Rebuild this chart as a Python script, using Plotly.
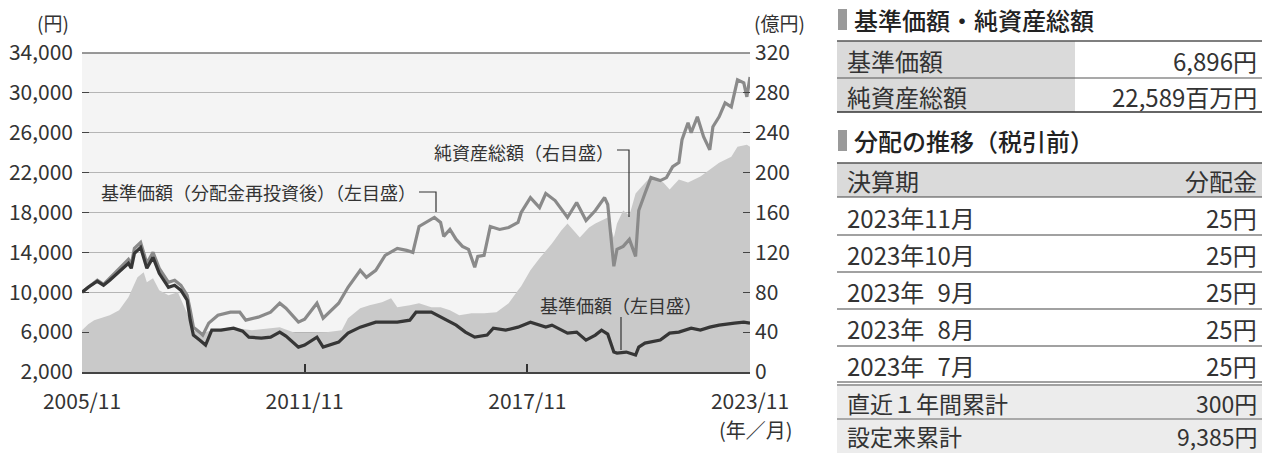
import plotly.graph_objects as go

# ---------------- data ----------------
nav_dates = ["2005-11","2006-01","2006-04","2006-06","2006-08","2006-11","2007-02","2007-03","2007-04","2007-06",
             "2007-08","2007-10","2007-12","2008-03","2008-05","2008-07","2008-09","2008-10","2008-11","2009-01",
             "2009-03","2009-05","2009-08","2009-12","2010-03","2010-05","2010-09","2010-12","2011-03","2011-05",
             "2011-09","2011-11","2012-03","2012-05","2012-10","2013-01","2013-05","2013-10","2014-05","2014-09",
             "2014-11","2015-04","2015-07","2015-12","2016-03","2016-06","2016-10","2016-12","2017-04","2017-08",
             "2017-12","2018-05","2018-07","2018-12","2019-03","2019-06","2019-09","2019-11","2020-01","2020-03",
             "2020-04","2020-07","2020-10","2020-11","2021-01","2021-06","2021-09","2021-12","2022-04","2022-07",
             "2022-10","2023-01","2023-06","2023-09","2023-11"]
nav_values = [10000,10500,11100,10700,11200,12000,12900,12400,13900,14500,
              12400,13500,11900,10500,10700,10200,9200,7200,5700,5200,
              4700,6200,6200,6400,6100,5500,5400,5500,6000,5600,
              4500,4700,5500,4500,5000,5900,6500,7000,7000,7200,
              8000,8000,7500,6700,6000,5500,5700,6400,6200,6500,
              7000,6500,6700,5900,6000,5200,5700,6200,5800,4000,
              3900,4000,3700,4500,4900,5200,5900,6000,6400,6200,
              6500,6700,6900,7000,6896]

reinv_dates = ["2005-11","2006-01","2006-04","2006-06","2006-08","2006-11","2007-02","2007-03","2007-04","2007-06",
               "2007-08","2007-10","2007-12","2008-03","2008-05","2008-07","2008-09","2008-10","2008-11","2009-01",
               "2009-02","2009-04","2009-07","2009-11","2010-02","2010-04","2010-08","2010-12","2011-03","2011-05",
               "2011-09","2011-11","2012-03","2012-05","2012-10","2013-01","2013-05","2013-07","2013-10","2014-01",
               "2014-05","2014-08","2014-10","2014-12","2015-02","2015-05","2015-07","2015-08","2015-10","2015-12",
               "2016-02","2016-04","2016-06","2016-07","2016-09","2016-11","2017-02","2017-05","2017-08","2017-09",
               "2017-12","2018-03","2018-05","2018-08","2018-12","2019-03","2019-06","2019-09","2019-12","2020-01",
               "2020-03","2020-04","2020-06","2020-08","2020-10","2020-11","2021-01","2021-03","2021-06","2021-08",
               "2021-10","2021-12","2022-01","2022-03","2022-04","2022-06","2022-08","2022-10","2022-11","2023-01",
               "2023-03","2023-05","2023-07","2023-09","2023-10","2023-11"]
reinv_values = [10000,10500,11200,10800,11400,12300,13300,12800,14400,15000,
                12900,14000,12400,11000,11200,10700,9700,8200,6500,6000,
                5700,6900,7700,8000,8000,7200,7500,8000,8900,8400,
                7000,7300,8900,7400,8900,10500,12200,11500,12200,13700,
                14400,14200,14000,16600,17000,17500,17000,15600,16300,15300,
                14600,14300,12500,13600,13700,16600,16300,16500,17000,18000,
                19500,18500,19900,19200,17500,19000,17200,18200,19500,18800,
                12600,14300,14600,15300,13600,18200,19900,21500,21200,21500,
                22600,23000,25300,27000,26000,27600,25600,24300,26600,27600,
                29000,28600,31300,31000,29600,31600]

assets_dates = ["2005-11","2006-01","2006-03","2006-08","2006-11","2007-02","2007-05","2007-07","2007-08","2007-10",
                "2007-12","2008-03","2008-06","2008-09","2008-11","2009-02","2009-05","2009-11","2010-06","2010-12",
                "2011-03","2011-08","2012-01","2012-06","2012-11","2013-01","2013-05","2013-08","2013-12","2014-03",
                "2014-05","2014-09","2014-12","2015-04","2015-07","2015-10","2016-01","2016-05","2016-09","2017-01",
                "2017-05","2017-08","2017-09","2017-12","2018-03","2018-07","2018-10","2018-12","2019-04","2019-07",
                "2019-09","2020-01","2020-03","2020-04","2020-06","2020-08","2020-10","2020-12","2021-03","2021-07",
                "2021-09","2021-12","2022-03","2022-07","2022-10","2023-01","2023-05","2023-07","2023-10","2023-11"]
assets_values = [42,48,52,57,62,75,95,100,90,94,
                 82,77,80,59,42,39,42,45,42,44,
                 45,39,39,40,42,54,64,67,70,74,
                 65,67,69,65,65,62,57,59,59,60,
                 69,82,86,102,114,129,142,149,135,145,
                 149,155,135,149,162,157,179,186,196,190,
                 183,193,190,196,203,210,216,226,228,226]

x_tick_dates = ["2005-11-01", "2011-11-01", "2017-11-01", "2023-11-01"]
x_tick_labels = ["2005/11", "2011/11", "2017/11", "2023/11"]
left_ticks = [2000, 6000, 10000, 14000, 18000, 22000, 26000, 30000, 34000]
right_ticks = [0, 40, 80, 120, 160, 200, 240, 280, 320]

label_reinv = "基準価額（分配金再投資後）（左目盛）"
label_assets = "純資産総額（右目盛）"
label_nav = "基準価額（左目盛）"

table1_title = "基準価額・純資産総額"
table1_labels = ["基準価額", "純資産総額"]
table1_values = ["6,896円", "22,589百万円"]

table2_title = "分配の推移（税引前）"
table2_header = ["決算期", "分配金"]
table2_periods = ["2023年11月", "2023年10月", "2023年\u20079月", "2023年\u20078月", "2023年\u20077月"]
table2_amounts = ["25円", "25円", "25円", "25円", "25円"]
summary_labels = ["直近１年間累計", "設定来累計"]
summary_values = ["300円", "9,385円"]

# ---------------- layout helpers ----------------
FONT = "Noto Sans CJK JP"
TXT = "#333333"
PL, PR, PT, PB = 82, 750, 53, 372


def fx(x):
    return (x - PL) / (PR - PL)


def fy(y):
    return (PB - y) / (PB - PT)


shapes = []
annotations = []


def rect(x0, y0, x1, y1, color):
    shapes.append(dict(type="rect", xref="paper", yref="paper", x0=fx(x0), x1=fx(x1),
                       y0=fy(y1), y1=fy(y0), fillcolor=color, line=dict(width=0), layer="below"))


def hline(x0, x1, y, color="#555555", width=1.2):
    shapes.append(dict(type="line", xref="paper", yref="paper", x0=fx(x0), x1=fx(x1),
                       y0=fy(y), y1=fy(y), line=dict(color=color, width=width)))


def path(points, color="#333333", width=1.2):
    d = "M " + " L ".join(f"{fx(a)},{fy(b)}" for a, b in points)
    shapes.append(dict(type="path", xref="paper", yref="paper", path=d,
                       line=dict(color=color, width=width)))


def text(x, y, s, size, anchor="left", color=TXT, weight=None):
    f = dict(family=FONT, size=size, color=color)
    if weight:
        f["weight"] = weight
    annotations.append(dict(xref="paper", yref="paper", x=fx(x), y=fy(y), text=s,
                            showarrow=False, xanchor=anchor, yanchor="middle", font=f))


# ---------------- figure ----------------
fig = go.Figure()
fig.add_trace(go.Scatter(x=assets_dates, y=assets_values, mode="lines", fill="tozeroy",
                         fillcolor="#c9c9c9", line=dict(width=0, color="#c9c9c9"),
                         yaxis="y", showlegend=False, hoverinfo="skip"))
fig.add_trace(go.Scatter(x=reinv_dates, y=reinv_values, mode="lines",
                         line=dict(color="#8a8a8a", width=3.2), yaxis="y2", showlegend=False))
fig.add_trace(go.Scatter(x=nav_dates, y=nav_values, mode="lines",
                         line=dict(color="#363636", width=3.2), yaxis="y2", showlegend=False))

# top border of the plot
shapes.append(dict(type="line", xref="paper", yref="paper", x0=0, x1=1, y0=1, y1=1,
                   line=dict(color="#777777", width=1.5)))

# leader lines
path([(419, 192), (436, 192), (436, 212)])
path([(617, 150), (629, 150), (629, 217)])
path([(621, 317), (621, 350)])

text(418, 192, label_reinv, 18, "right")
text(616, 152, label_assets, 18, "right")
text(621, 305, label_nav, 18, "center")

# unit labels
text(71, 22, "(円)", 19, "right")
text(752, 22, "(億円)", 19, "left")
text(795, 429, "(年／月)", 20, "right")

# ---------- right-hand tables ----------
TL, TR, TM = 837, 1262, 1075
# table 1
rect(838, 9, 847, 30, "#9a9a9a")
text(852, 19, table1_title, 24, "left", color="#222222", weight=500)
row_edges1 = [41, 78, 112]
for i, (lab, val) in enumerate(zip(table1_labels, table1_values)):
    y0, y1 = row_edges1[i], row_edges1[i + 1]
    rect(TL, y0, TM, y1, "#dadada")
    text(845, (y0 + y1) / 2 + 1, lab, 24, "left")
    text(1259, (y0 + y1) / 2 + 1, val, 24, "right")
hline(TL, TR, 41, "#555555", 1.5)
hline(TL, TR, 78, "#555555", 1.2)
hline(TL, TR, 112, "#333333", 1.5)

# table 2
rect(838, 130, 847, 151, "#9a9a9a")
text(852, 140, table2_title, 24, "left", color="#222222", weight=500)
rect(TL, 163, TR, 197, "#dadada")
text(845, 180, table2_header[0], 24, "left")
text(1259, 180, table2_header[1], 24, "right")
row_edges2 = [197, 235, 272, 309, 346, 382]
for i, (per, amt) in enumerate(zip(table2_periods, table2_amounts)):
    y0, y1 = row_edges2[i], row_edges2[i + 1]
    text(845, (y0 + y1) / 2 + 1, per, 24, "left")
    text(1259, (y0 + y1) / 2 + 1, amt, 24, "right")
for y in row_edges2:
    hline(TL, TR, y, "#444444", 1.2)
hline(TL, TR, 163, "#555555", 1.5)
hline(TL, TR, 385, "#444444", 1.2)
row_edges3 = [386, 419, 453]
for i, (lab, val) in enumerate(zip(summary_labels, summary_values)):
    y0, y1 = row_edges3[i], row_edges3[i + 1]
    rect(TL, y0, TR, y1, "#ececec")
    text(845, (y0 + y1) / 2, lab, 23, "left")
    text(1259, (y0 + y1) / 2, val, 23, "right")
hline(TL, TR, 419, "#666666", 1.2)

fig.update_layout(
    width=1272, height=453, autosize=False,
    margin=dict(l=PL, r=1272 - PR, t=PT, b=453 - PB, pad=0, autoexpand=False),
    paper_bgcolor="white", plot_bgcolor="#f4f4f4",
    font=dict(family=FONT, color=TXT),
    showlegend=False,
    xaxis=dict(type="date", range=["2005-11-01", "2023-11-01"],
               tickvals=x_tick_dates, ticktext=x_tick_labels,
               ticks="inside", ticklen=8, tickwidth=1.5, tickcolor="#333333",
               showline=True, linecolor="#444444", linewidth=1.5,
               showgrid=False, zeroline=False, automargin=False, ticklabelstandoff=10,
               tickfont=dict(family=FONT, size=21, color=TXT)),
    yaxis=dict(range=[0, 320], side="right", tickvals=right_ticks,
               ticks="inside", ticklen=7, tickwidth=1.2, tickcolor="#444444",
               showgrid=True, gridcolor="#b5b5b5", gridwidth=1, zeroline=False,
               showline=False, ticklabelstandoff=4, automargin=False,
               tickfont=dict(family=FONT, size=21, color=TXT)),
    yaxis2=dict(range=[2000, 34000], side="left", overlaying="y",
                tickvals=left_ticks, tickformat=",d",
                ticks="inside", ticklen=7, tickwidth=1.2, tickcolor="#444444",
                showgrid=False, zeroline=False, showline=False, ticklabelstandoff=8,
                automargin=False,
                tickfont=dict(family=FONT, size=21, color=TXT)),
    shapes=shapes, annotations=annotations,
)

fig.write_html("out.html", config={"displayModeBar": False},
               post_script="document.body.style.margin='0';document.body.style.overflow='hidden';")
